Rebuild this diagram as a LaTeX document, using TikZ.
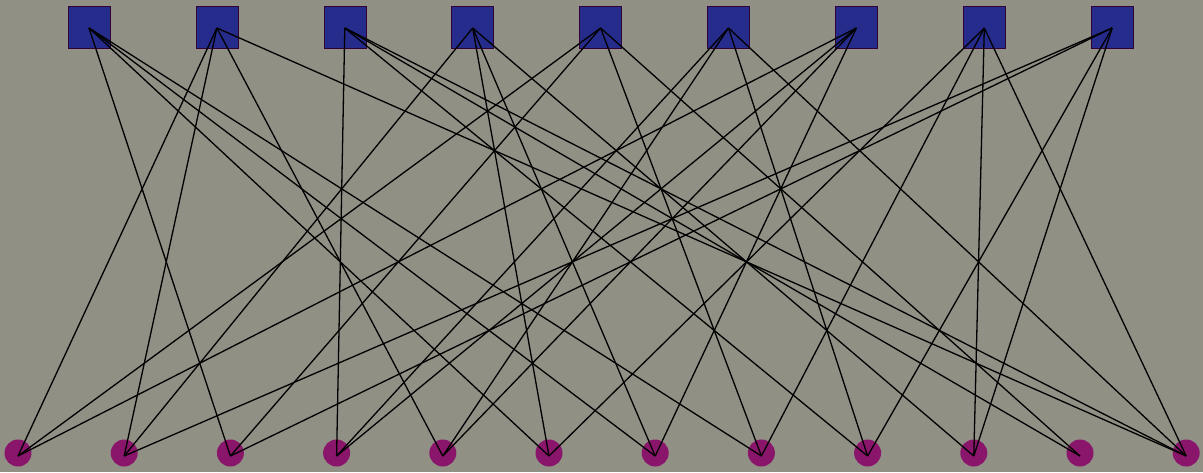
\documentclass[tikz,border=0pt]{standalone}
\begin{document}
\begin{tikzpicture}[x=1pt,y=-1pt,
  chk/.style={draw=black!60!violet,line width=0.5pt,fill=sqblue,minimum size=42pt,inner sep=0pt,rectangle},
  var/.style={fill=cmag,circle,minimum size=27pt,inner sep=0pt},
  edge/.style={black,line width=1.3pt}]
\definecolor{bg}{RGB}{145,144,133}
\definecolor{sqblue}{RGB}{38,44,140}
\definecolor{cmag}{RGB}{138,22,108}
\fill[bg] (0,0) rectangle (1203,472);
\useasboundingbox (0,0) rectangle (1203,472);
\foreach \i in {1,...,9} {
  \node[chk] (s\i) at ({89+127.9*(\i-1)},27) {};
  \coordinate (p\i) at ({89+127.9*(\i-1)},28);
}
\foreach \j in {1,...,12} {
  \node[var] (c\j) at ({18+106.2*(\j-1)},453) {};
  \coordinate (q\j) at ({18+106.2*(\j-1)},456);
}
\foreach \s/\cs in {1/{3,6,7,8},2/{1,2,5,12},3/{4,9,11,12},4/{2,6,7,10},5/{1,3,8,11},6/{4,5,9,12},7/{1,4,5,7},8/{6,8,10,12},9/{2,3,9,10}} {
  \foreach \c in \cs {
    \draw[edge] (p\s) -- (q\c);
  }
}
\end{tikzpicture}
\end{document}
